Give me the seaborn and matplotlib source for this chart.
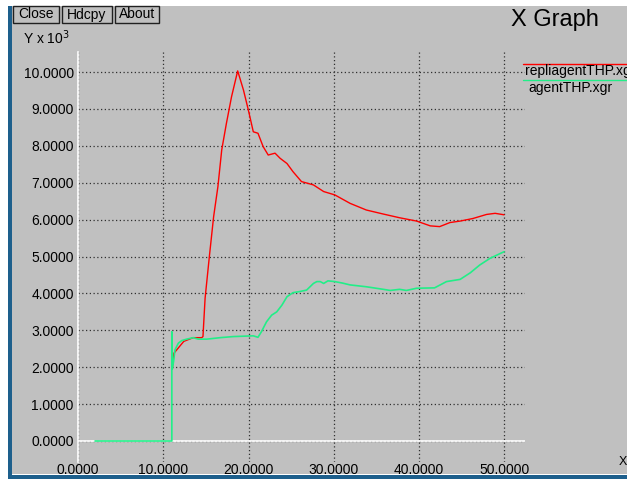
"""
xgraph style throughput plot: repliagentTHP vs agentTHP
Run: python plot.py  -> out.png
"""
import matplotlib
matplotlib.use("Agg")
import matplotlib.pyplot as plt
from matplotlib.patches import Rectangle
import seaborn as sns

W, H = 627, 479

# red series (repliagentTHP.xg), y in units of 10^3
repli_x = [11.05, 11.25, 12.4, 13.5, 14.5, 14.65, 14.9, 15.4, 15.9, 16.4, 16.85,
           17.4, 18.0, 18.72, 19.4, 19.97, 20.55, 21.1, 21.7, 22.3, 23.1,
           23.7, 24.5, 25.2, 26.2, 27.6, 28.8, 30.1, 31.9, 33.8, 35.8,
           37.7, 39.7, 41.3, 42.4, 43.6, 44.8, 46.3, 47.9, 48.9, 49.95]
repli_y = [1.95, 2.38, 2.7, 2.8, 2.8, 2.83, 3.87, 5.0, 6.08, 6.89, 7.89,
           8.61, 9.33, 10.03, 9.51, 8.97, 8.38, 8.34, 7.98, 7.75, 7.8,
           7.66, 7.52, 7.3, 7.03, 6.94, 6.76, 6.67, 6.44, 6.26, 6.15,
           6.05, 5.96, 5.83, 5.81, 5.92, 5.96, 6.03, 6.14, 6.17, 6.13]

# green series (agentTHP.xgr)
agent_x = [2.0, 11.0, 11.0, 11.05, 11.2, 11.37, 11.76, 12.15, 12.74, 13.5, 14.1,
           15.1, 16.65, 18.2, 20.55, 21.1, 21.5, 22.1, 22.7, 23.3, 23.9,
           24.5, 25.2, 26.0, 26.8, 27.6, 28.0, 28.4, 28.8, 29.3, 30.1,
           31.0, 31.9, 33.8, 35.8, 36.6, 37.7, 38.5, 39.7, 41.8, 43.2,
           44.8, 46.0, 47.1, 48.3, 49.95]
agent_y = [0.0, 0.0, 2.96, 1.95, 2.15, 2.47, 2.65, 2.72, 2.76, 2.8, 2.76,
           2.76, 2.8, 2.83, 2.85, 2.81, 2.96, 3.23, 3.41, 3.5, 3.68,
           3.91, 4.02, 4.05, 4.09, 4.27, 4.32, 4.32, 4.27, 4.34, 4.32,
           4.28, 4.23, 4.18, 4.11, 4.08, 4.11, 4.08, 4.14, 4.15, 4.32,
           4.38, 4.56, 4.77, 4.95, 5.13]

x_ticks = [0, 10, 20, 30, 40, 50]
y_ticks = list(range(0, 11))
legend_names = ["repliagentTHP.xg", "agentTHP.xgr"]

GRAY = "#c0c0c0"
RED = "#ff0000"
GREEN = "#22ee88"
FONT = "Liberation Sans"


def px(x, y):
    # pixel position -> figure fraction
    return x / W, 1 - y / H


def main():
    sns.set_style("white")
    plt.rcParams["font.family"] = [FONT, "DejaVu Sans"]

    fig = plt.figure(figsize=(W / 100, H / 100), dpi=100)
    fig.patch.set_facecolor("white")

    # window background and border strips (behind the axes)
    fig.patches.append(Rectangle(px(12, 474), (W - 12) / W, 468 / H,
                                 transform=fig.transFigure, fc=GRAY, ec="none", zorder=-2))
    fig.patches.append(Rectangle(px(8, 479), 4 / W, 473 / H,
                                 transform=fig.transFigure, fc="#1d5f8c", ec="none", zorder=-2))
    fig.patches.append(Rectangle(px(8, 479), (W - 8) / W, 4 / H,
                                 transform=fig.transFigure, fc="#1d5f8c", ec="none", zorder=-2))

    # buttons
    for label, x0, x1 in [("Close", 13, 59), ("Hdcpy", 62, 112), ("About", 115, 159)]:
        fig.patches.append(Rectangle(px(x0, 23), (x1 - x0) / W, 17 / H,
                                     transform=fig.transFigure, fc=GRAY, ec="#202020",
                                     lw=1, zorder=-1))
        cx, cy = px((x0 + x1) / 2, 14.5)
        fig.text(cx, cy, label, ha="center", va="center", fontsize=10, color="black")

    fig.text(*px(511, 20), "X Graph", ha="left", va="center", fontsize=17, color="black")
    fig.text(*px(23, 38), "Y x 10$^3$", ha="left", va="center", fontsize=10, color="black")
    fig.text(*px(619, 462), "X", ha="left", va="center", fontsize=9, color="black")

    # legend entries: coloured line above each name
    for name, col, ly, ty, tx in [(legend_names[0], RED, 63.5, 71, 525),
                                  (legend_names[1], GREEN, 79.5, 88, 528)]:
        x0, y0 = px(523, ly)
        fig.add_artist(plt.Line2D([x0, 1.0], [y0, y0], color=col, lw=1,
                                  transform=fig.transFigure))
        fig.text(*px(tx, ty), name, ha="left", va="center", fontsize=10, color="black")

    left, bottom = px(78, 462)
    right, top = px(525, 52)
    ax = fig.add_axes([left, bottom, right - left, top - bottom])
    ax.set_facecolor(GRAY)

    sns.lineplot(x=repli_x, y=repli_y, color=RED, lw=1, estimator=None, sort=False, ax=ax)
    sns.lineplot(x=agent_x, y=agent_y, color=GREEN, lw=1.2, estimator=None, sort=False, ax=ax)
    ax.axhline(0, color="white", lw=1.2, zorder=1.8)

    ax.set_xlim(0, (525 - 78) / 8.53)
    ax.set_ylim((441 - 462) / 36.9, (441 - 52) / 36.9)

    ax.set_xticks(x_ticks)
    ax.set_xticklabels([f"{v:.4f}" for v in x_ticks])
    ax.set_yticks(y_ticks)
    ax.set_yticklabels([f"{v:.4f}" for v in y_ticks])
    ax.tick_params(length=0, labelsize=10, colors="black")
    ax.tick_params(axis="x", pad=1)
    ax.tick_params(axis="y", pad=3)

    ax.grid(True, color="#303030", lw=0.9, linestyle=(0, (1, 2)))
    ax.set_axisbelow(True)
    for s in ["top", "right", "bottom"]:
        ax.spines[s].set_visible(False)
    ax.spines["left"].set_color("white")
    ax.spines["left"].set_linewidth(1.2)
    ax.spines["left"].set_zorder(3)

    fig.savefig("out.png", dpi=100)
    plt.close(fig)


if __name__ == "__main__":
    main()
